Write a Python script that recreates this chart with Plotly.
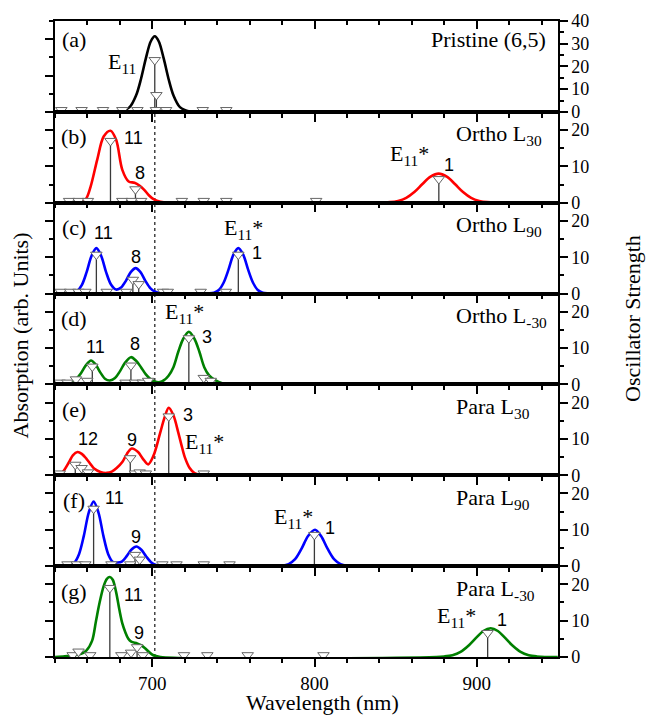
import plotly.graph_objects as go
from plotly.subplots import make_subplots

# ---------------- data ----------------
# absorption curves (arb. units), wavelength in nm
a_wl = [640, 680, 686, 690, 693, 696, 699, 701.5, 704, 707, 710, 713, 717, 723, 950]
a_abs = [0, 0.02, 0.26, 0.91, 1.81, 2.94, 3.87, 4.16, 3.87, 2.94, 1.81, 0.91, 0.26, 0.02, 0]

b_wl = [640, 655, 659, 662, 666, 670, 674.2, 677.7, 681.5, 685.4, 689, 692, 695, 698, 701, 705, 710,
        846.5, 851.5, 856.5, 861.5, 866.5, 871.5, 876.5, 881.5, 886.5, 891.5, 896.5, 901.5, 906.5, 950]
b_abs = [0, 0.02, 0.2, 0.9, 2.36, 3.64, 3.96, 3.46, 1.81, 1.17, 1.1, 0.95, 0.71, 0.4, 0.18, 0.05, 0,
         0.03, 0.1, 0.27, 0.59, 1.03, 1.43, 1.6, 1.43, 1.03, 0.59, 0.27, 0.1, 0.03, 0]

c_wl = [640, 650, 653.5, 656.5, 659.5, 662.5, 665.5, 668.5, 671.5, 674.5, 677.7, 680.7, 683.7, 686.7,
        689.7, 692.7, 695.7, 698.7, 701.7, 705, 710,
        735, 738, 741, 744, 747, 750, 753, 756, 759, 762, 765, 768, 771, 950]
c_abs = [0, 0.01, 0.12, 0.46, 1.18, 2.07, 2.5, 2.07, 1.18, 0.5, 0.22, 0.33, 0.7, 1.18,
         1.4, 1.18, 0.7, 0.3, 0.1, 0.02, 0,
         0.01, 0.05, 0.2, 0.61, 1.33, 2.14, 2.5, 2.14, 1.33, 0.61, 0.2, 0.05, 0.01, 0]

d_wl = [640, 645, 650, 653, 656, 659, 662.2, 665, 668, 671, 673.8, 677, 680, 683, 686.8, 690, 693, 696,
        699, 702, 704.7, 707, 710, 713, 716, 719, 722.5, 726, 729, 732, 735, 739, 743, 747, 755, 950]
d_abs = [0, 0.03, 0.12, 0.3, 0.62, 1.05, 1.32, 1.1, 0.65, 0.3, 0.22, 0.35, 0.72, 1.17, 1.5, 1.3, 0.95, 0.55,
         0.28, 0.14, 0.13, 0.22, 0.48, 0.95, 1.8, 2.5, 2.9, 2.5, 1.8, 0.95, 0.5, 0.22, 0.07, 0.01, 0, 0]

e_wl = [640, 643, 645, 648.7, 651, 653.9, 656.5, 659.3, 662, 664.1, 668, 671.9, 675, 678, 681.5, 684.4,
        687.3, 691.2, 694.1, 697.4, 700.8, 704.7, 707.6, 710.1, 713, 716, 718, 720, 723, 726, 729, 735, 950]
e_abs = [0, 0.06, 0.2, 0.73, 1.1, 1.28, 1.18, 0.92, 0.6, 0.37, 0.18, 0.13, 0.2, 0.4, 0.73, 1.19,
         1.47, 1.28, 0.92, 0.6, 1.1, 2.29, 3.2, 3.72, 3.3, 2.35, 1.65, 1.0, 0.4, 0.12, 0.03, 0, 0]

f_wl = [640, 648, 651.8, 654.8, 657.8, 660.8, 663.8, 666.8, 669.8, 672.8, 675.8, 678.6, 681.2, 684.2,
        687.2, 690.2, 693.2, 696.2, 699.2, 702.2, 706,
        776, 780, 784, 788, 792, 796, 800.3, 804, 808, 812, 816, 820, 824, 950]
f_abs = [0, 0.01, 0.18, 0.66, 1.68, 2.95, 3.55, 2.95, 1.68, 0.66, 0.22, 0.2, 0.25, 0.55,
         0.92, 1.08, 0.9, 0.53, 0.22, 0.07, 0.01,
         0, 0.02, 0.11, 0.38, 0.96, 1.66, 2.0, 1.66, 0.96, 0.38, 0.11, 0.02, 0, 0]

g_wl = [640, 646, 652, 655.7, 659.3, 662.9, 665.3, 667.5, 670, 672, 673.8, 675.6, 677.6, 679.7, 681.5,
        683.4, 685.2, 687, 690.6, 693, 695.5, 698, 700.3, 705,
        875, 880, 885, 890, 895, 900, 904, 908.6, 913, 917, 922, 927, 932, 937, 942, 950]
g_abs = [0, 0.04, 0.1, 0.16, 0.35, 0.9, 2.0, 3.0, 3.9, 4.3, 4.4, 4.25, 3.6, 2.6, 1.85,
         1.35, 1.0, 0.84, 0.75, 0.65, 0.48, 0.27, 0.11, 0,
         0, 0.03, 0.1, 0.28, 0.63, 1.09, 1.43, 1.58, 1.43, 1.09, 0.63, 0.28, 0.1, 0.03, 0, 0]

# oscillator strengths (stick spectra)
a_st_wl = [643.9, 656.4, 669.6, 681.5, 690.8, 701.5, 702.5, 702.2, 708.5, 731.1, 745.6]
a_st_f = [0.8, 0.8, 0.8, 0.8, 0.8, 22.8, 7.4, 0.8, 0.8, 0.8, 0.8]

b_st_wl = [648.7, 654.5, 660.3, 674.2, 681.5, 687.3, 689.6, 693.1, 718.2, 731.7, 745.6, 801.0, 876.6]
b_st_f = [0.5, 0.5, 0.5, 17.0, 0.5, 0.5, 3.7, 0.5, 0.5, 0.5, 0.5, 0.5, 6.5]

c_st_wl = [643.5, 649.3, 654.5, 658.7, 665.5, 671.9, 683.9, 688.0, 691.6, 706.6, 709.5, 729.8, 745.3, 753.0]
c_st_f = [0.5, 0.5, 0.5, 0.5, 10.7, 0.5, 0.5, 3.8, 2.6, 0.5, 0.5, 0.5, 0.5, 10.7]

d_st_wl = [642.9, 647.7, 652.9, 659.9, 663.0, 683.5, 686.8, 689.3, 694.1, 697.4, 722.5, 731.7, 736.0]
d_st_f = [0.5, 0.5, 1.4, 1.0, 4.9, 0.5, 5.2, 0.5, 0.5, 1.0, 12.7, 1.8, 1.0]

e_st_wl = [642.9, 652.5, 656.4, 660.3, 686.4, 689.3, 692.2, 696.0, 710.1, 731.7]
e_st_f = [0.5, 2.9, 2.0, 0.8, 4.7, 0.5, 0.8, 0.5, 16.2, 0.5]

f_st_wl = [647.7, 653.5, 658.7, 663.8, 674.8, 686.4, 689.3, 692.2, 706.2, 714.9, 731.7, 747.6, 799.9]
f_st_f = [0.5, 0.5, 0.5, 15.8, 0.5, 0.5, 3.1, 1.8, 0.5, 0.5, 0.5, 0.5, 8.6]

g_st_wl = [650.9, 654.5, 661.7, 673.8, 680.9, 686.9, 690.6, 694.2, 719.5, 733.9, 758.8, 805.5, 906.7]
g_st_f = [0.5, 1.5, 0.5, 19.0, 0.5, 1.2, 2.7, 0.5, 0.5, 0.5, 0.5, 0.5, 6.6]

panel_letters = ["(a)", "(b)", "(c)", "(d)", "(e)", "(f)", "(g)"]
panel_names = ["Pristine (6,5)", "Ortho L<sub>30</sub>", "Ortho L<sub>90</sub>", "Ortho L<sub>-30</sub>",
               "Para L<sub>30</sub>", "Para L<sub>90</sub>", "Para L<sub>-30</sub>"]
curve_colors = ["#000000", "#ff0000", "#0000ff", "#008000", "#ff0000", "#0000ff", "#008000"]
osc_max = [40, 25, 25, 25, 25, 25, 25]
dotted_wl = 701.5

curves = [(a_wl, a_abs), (b_wl, b_abs), (c_wl, c_abs), (d_wl, d_abs), (e_wl, e_abs), (f_wl, f_abs), (g_wl, g_abs)]
sticks = [(a_st_wl, a_st_f), (b_st_wl, b_st_f), (c_st_wl, c_st_f), (d_st_wl, d_st_f),
          (e_st_wl, e_st_f), (f_st_wl, f_st_f), (g_st_wl, g_st_f)]

# peak labels: (panel index, x nm, y abs-units, text, font kind)
peak_labels = [
    (0, 681, 2.69, "E<sub>11</sub>", "serif"),
    (1, 688.1, 3.56, "11", "sans"), (1, 692.1, 1.63, "8", "sans"),
    (1, 858.5, 2.63, "E<sub>11</sub>*", "serif"), (1, 882.8, 2.07, "1", "sans"),
    (2, 670.1, 3.34, "11", "sans"), (2, 690.2, 2.01, "8", "sans"),
    (2, 756.5, 3.56, "E<sub>11</sub>*", "serif"), (2, 764.6, 2.23, "1", "sans"),
    (3, 664.9, 2.07, "11", "sans"), (3, 689.3, 2.22, "8", "sans"),
    (3, 720.0, 3.92, "E<sub>11</sub>*", "serif"), (3, 733.7, 2.63, "3", "sans"),
    (4, 660.3, 1.98, "12", "sans"), (4, 687.3, 1.94, "9", "sans"),
    (4, 722.1, 3.31, "3", "sans"), (4, 732.1, 1.76, "E<sub>11</sub>*", "serif"),
    (5, 676.7, 3.73, "11", "sans"), (5, 690.2, 1.62, "9", "sans"),
    (5, 786.9, 2.63, "E<sub>11</sub>*", "serif"), (5, 809.4, 2.08, "1", "sans"),
    (6, 688.1, 3.39, "11", "sans"), (6, 691.8, 1.30, "9", "sans"),
    (6, 887.4, 2.22, "E<sub>11</sub>*", "serif"), (6, 915.8, 2.04, "1", "sans"),
]

SERIF = "Liberation Serif"
SANS = "Liberation Sans"

fig = make_subplots(rows=7, cols=1, shared_xaxes=True, vertical_spacing=0,
                    specs=[[{"secondary_y": True}] for _ in range(7)])

for i in range(7):
    r = i + 1
    wl, ab = curves[i]
    fig.add_trace(go.Scatter(x=wl, y=ab, mode="lines", hoverinfo="skip", showlegend=False,
                             line=dict(color=curve_colors[i], width=2.6, shape="spline", smoothing=0.9)),
                  row=r, col=1, secondary_y=False)
    swl, sf = sticks[i]
    fig.add_trace(go.Scatter(x=swl, y=sf, mode="markers", hoverinfo="skip", showlegend=False,
                             marker=dict(symbol="triangle-down", size=10, color="white",
                                         line=dict(color="#666666", width=1)),
                             error_y=dict(type="data", symmetric=False, array=[0] * len(sf),
                                          arrayminus=sf, width=0, thickness=1.3, color="#3a3a3a")),
                  row=r, col=1, secondary_y=True)

axis_common = dict(showline=True, linecolor="black", linewidth=1.5, showgrid=False, zeroline=False,
                   tickcolor="black", tickwidth=1.5, automargin=False)

for i in range(7):
    r = i + 1
    fig.update_xaxes(range=[640, 950], mirror=True, ticks="outside", ticklen=8, tick0=700, dtick=100,
                     minor=dict(dtick=20, ticklen=4, ticks="outside", tickcolor="black", tickwidth=1.5),
                     tickfont=dict(family=SERIF, size=19, color="black"),
                     row=r, col=1, **axis_common)
    fig.update_yaxes(range=[0, 5], ticks="outside", ticklen=8, tick0=0, dtick=2,
                     minor=dict(dtick=1, ticklen=4, ticks="outside", tickcolor="black", tickwidth=1.5),
                     showticklabels=False, row=r, col=1, secondary_y=False, **axis_common)
    fig.update_yaxes(range=[0, osc_max[i]], ticks="outside", ticklen=8, tick0=0, dtick=10,
                     minor=dict(dtick=5, ticklen=4, ticks="outside", tickcolor="black", tickwidth=1.5),
                     tickfont=dict(family=SERIF, size=18, color="black"),
                     row=r, col=1, secondary_y=True, **axis_common)

# top axis of the first panel with inward ticks
fig.update_layout(xaxis15=dict(overlaying="x", anchor="y", side="top", range=[640, 950],
                               ticks="inside", ticklen=8, tick0=700, dtick=100, showticklabels=False,
                               minor=dict(dtick=20, ticklen=4, ticks="inside", tickcolor="black", tickwidth=1.5),
                               **axis_common))
fig.add_trace(go.Scatter(x=[700], y=[None], xaxis="x15", yaxis="y", showlegend=False, hoverinfo="skip"))

annotations = []
for i in range(7):
    r = i + 1
    xr = "x" if r == 1 else f"x{r}"
    yr = f"y{2 * r - 1}" if r > 1 else "y"
    annotations.append(dict(x=651.9, y=(3.96 if i == 0 else 3.62), xref=xr, yref=yr, text=panel_letters[i],
                            showarrow=False, xanchor="center", yanchor="middle",
                            font=dict(family=SERIF, size=22, color="black")))
    if i == 0:
        annotations.append(dict(x=944.2, y=3.96, xref=xr, yref=yr, text=panel_names[i], showarrow=False,
                                xanchor="right", yanchor="middle", font=dict(family=SERIF, size=22, color="black")))
    else:
        annotations.append(dict(x=885.7, y=3.7, xref=xr, yref=yr, text=panel_names[i], showarrow=False,
                                xanchor="left", yanchor="middle", font=dict(family=SERIF, size=22, color="black")))

for (i, x, y, t, kind) in peak_labels:
    r = i + 1
    xr = "x" if r == 1 else f"x{r}"
    yr = f"y{2 * r - 1}" if r > 1 else "y"
    fam, sz = (SERIF, 22) if kind == "serif" else (SANS, 18)
    annotations.append(dict(x=x, y=y, xref=xr, yref=yr, text=t, showarrow=False,
                            xanchor="center", yanchor="middle", font=dict(family=fam, size=sz, color="black")))

# axis titles
annotations.append(dict(x=0.5, y=-0.071, xref="paper", yref="paper", text="Wavelength (nm)", showarrow=False,
                        xanchor="center", yanchor="middle", font=dict(family=SERIF, size=22, color="black")))
annotations.append(dict(x=-0.065, y=0.506, xref="paper", yref="paper", text="Absorption (arb. Units)",
                        showarrow=False, textangle=-90, xanchor="center", yanchor="middle",
                        font=dict(family=SERIF, size=22, color="black")))
annotations.append(dict(x=1.0785, y=0.533, xref="paper", yref="paper", text="Oscillator Strength",
                        showarrow=False, textangle=-90, xanchor="center", yanchor="middle",
                        font=dict(family=SERIF, size=22, color="black")))

fig.update_layout(
    template="none",
    width=651, height=715,
    margin=dict(l=55, r=61, t=21, b=58, autoexpand=False),
    plot_bgcolor="white", paper_bgcolor="white",
    showlegend=False,
    annotations=annotations,
    shapes=[dict(type="line", xref="x7", yref="paper", x0=dotted_wl, x1=dotted_wl, y0=0, y1=0.857,
                 line=dict(color="#444444", width=1.5, dash="dot"), layer="below")],
)

# remove the default 8px page margin so the figure fills the 651x715 window; hide the mode bar
fig.write_html("out.html",
               config={"displayModeBar": False},
               post_script="document.body.style.margin='0px';document.body.style.overflow='hidden';")
